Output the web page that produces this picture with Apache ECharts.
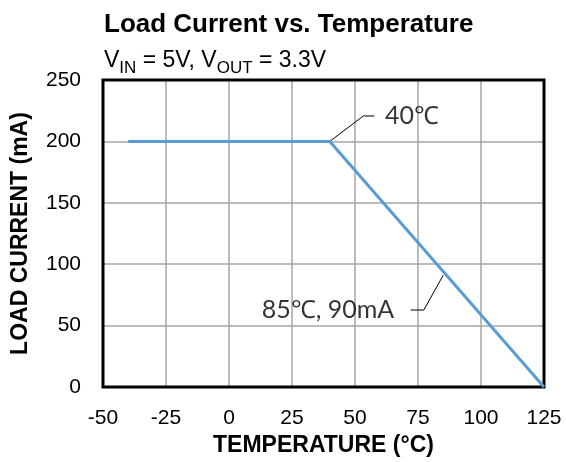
<!DOCTYPE html>
<html><head><meta charset="utf-8">
<script src="https://cdn.jsdelivr.net/npm/echarts@6/dist/echarts.min.js"></script>
<style>html,body{margin:0;padding:0;background:#fff}#c{width:566px;height:462px}</style>
</head><body><div id="c"></div>
<script>
const xTicks = [-50, -25, 0, 25, 50, 75, 100, 125];
const yTicks = [0, 50, 100, 150, 200, 250];
const tempC = [-40, 40, 125];
const loadmA = [200, 200, 0];
const leader40X = [40, 53.3, 57.7];
const leader40Y = [200, 220.7, 220.7];
const leader40Text = '40℃';
const leader85X = [85, 77.3, 72.1];
const leader85Y = [91, 62.7, 62.7];
const leader85Text = '85℃, 90mA';

const zip = (a, b) => a.map((v, i) => [v, b[i]]);
const F = 'Liberation Sans, Arial, sans-serif';
const chart = echarts.init(document.getElementById('c'));
function leader(xs, ys) {
  return {type: 'line', data: zip(xs, ys), symbol: 'none', silent: true,
    lineStyle: {color: '#000', width: 1}, z: 3, animation: false};
}
function leaderLabel(xs, ys, text, pos, dist) {
  const n = xs.length - 1;
  return {type: 'scatter', data: [[xs[n], ys[n]]], symbolSize: 1, silent: true,
    itemStyle: {color: 'rgba(0,0,0,0)'}, z: 6,
    label: {show: true, formatter: text, position: pos, distance: dist,
      fontFamily: 'Lato, sans-serif', fontSize: 25, color: '#000'}};
}
chart.setOption({
  animation: false,
  title: [{
    text: 'Load Current vs. Temperature', left: 99, top: 7,
    textStyle: {fontFamily: F, fontSize: 26, fontWeight: 'bold', color: '#000'}
  }, {
    text: '{n|V}{s|IN}{n| = 5V, V}{s|OUT}{n| = 3.3V}', left: 99, top: 42,
    textStyle: {fontWeight: 'normal', rich: {
      n: {fontFamily: F, fontSize: 23, fontWeight: 'normal', color: '#000', lineHeight: 25, verticalAlign: 'bottom'},
      s: {fontFamily: F, fontSize: 17, fontWeight: 'normal', color: '#000', lineHeight: 25, verticalAlign: 'bottom', padding: [0, 0, -5, 0]}
    }}
  }],
  grid: {left: 103, right: 22, top: 80, bottom: 75, show: true, borderColor: '#000', borderWidth: 3, z: 4},
  xAxis: {
    type: 'value', min: xTicks[0], max: xTicks[xTicks.length - 1], interval: 25,
    name: 'TEMPERATURE (°C)', nameLocation: 'middle', nameGap: 46,
    nameTextStyle: {fontFamily: F, fontSize: 23, fontWeight: 'bold', color: '#000'},
    axisLine: {show: false}, axisTick: {show: false},
    axisLabel: {fontFamily: F, fontSize: 21, color: '#000', margin: 21},
    splitLine: {lineStyle: {color: '#a6a6a6', width: 1.5}}
  },
  yAxis: {
    type: 'value', min: yTicks[0], max: yTicks[yTicks.length - 1], interval: 50,
    name: 'LOAD CURRENT (mA)', nameLocation: 'middle', nameGap: 71,
    nameTextStyle: {fontFamily: F, fontSize: 23, fontWeight: 'bold', color: '#000'},
    axisLine: {show: false}, axisTick: {show: false},
    axisLabel: {fontFamily: F, fontSize: 21, color: '#000', margin: 22},
    splitLine: {lineStyle: {color: '#a6a6a6', width: 1.5}}
  },
  series: [
    {type: 'line', data: zip(tempC, loadmA), symbol: 'none', lineStyle: {color: '#5b9bd5', width: 3}, z: 5},
    leader(leader40X, leader40Y),
    leader(leader85X, leader85Y),
    leaderLabel(leader40X, leader40Y, leader40Text, 'right', 10),
    leaderLabel(leader85X, leader85Y, leader85Text, 'left', 16)
  ]
});
</script></body></html>
